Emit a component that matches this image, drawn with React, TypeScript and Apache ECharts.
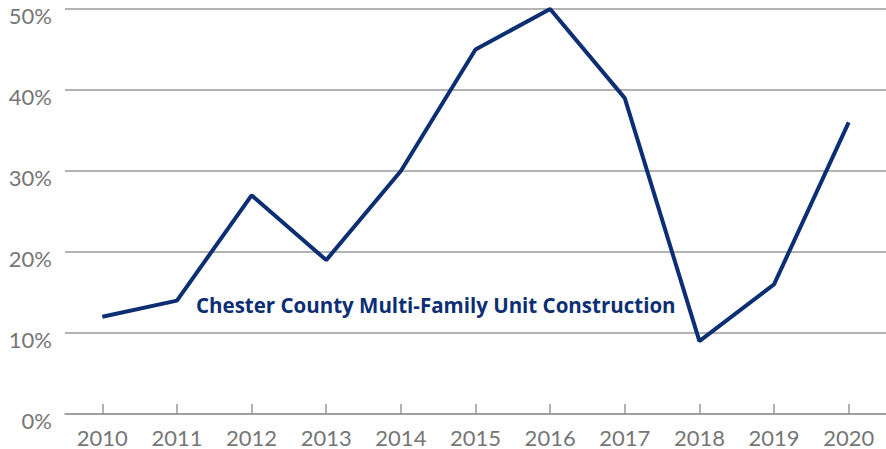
import React, { useEffect, useRef } from "react";
import * as echarts from "echarts";

const years = ["2010", "2011", "2012", "2013", "2014", "2015", "2016", "2017", "2018", "2019", "2020"];
const shares = [12, 14, 27, 19, 30, 45, 50, 39, 9, 16, 36];
const seriesTitle = "Chester County Multi-Family Unit Construction";

export default function App() {
  const ref = useRef<HTMLDivElement>(null);
  useEffect(() => {
    document.body.style.margin = "0";
    const chart = echarts.init(ref.current!, undefined, { renderer: "svg" });
    chart.setOption({
      animation: false,
      grid: { left: 65, right: 0, top: 9, bottom: 35 },
      xAxis: {
        type: "category",
        data: years,
        boundaryGap: true,
        axisLine: { lineStyle: { color: "#9a9a9a", width: 1.5 } },
        axisTick: { show: true, alignWithLabel: true, inside: true, length: 10, lineStyle: { color: "#9a9a9a", width: 1.5 } },
        axisLabel: { color: "#767676", fontSize: 22, fontFamily: "Lato", margin: 12 },
      },
      yAxis: {
        type: "value",
        min: 0,
        max: 50,
        interval: 10,
        axisLine: { show: false },
        axisTick: { show: false },
        splitLine: { lineStyle: { color: "#9a9a9a", width: 1.5 } },
        axisLabel: {
          formatter: "{value}%",
          color: "#767676",
          fontSize: 22,
          fontFamily: "Lato",
          margin: 13,
          verticalAlign: "top",
          lineHeight: 12,
        },
      },
      series: [
        {
          type: "line",
          data: shares,
          symbol: "none",
          lineStyle: { color: "#0c2f74", width: 4 },
        },
      ],
      graphic: [
        {
          type: "text",
          x: 196,
          y: 305,
          style: {
            text: seriesTitle,
            fill: "#0c2f74",
            font: "bold 20.5px 'Open Sans'",
            verticalAlign: "middle",
          },
        },
      ],
    });
    return () => chart.dispose();
  }, []);
  return <div ref={ref} style={{ width: 886, height: 449 }} />;
}
